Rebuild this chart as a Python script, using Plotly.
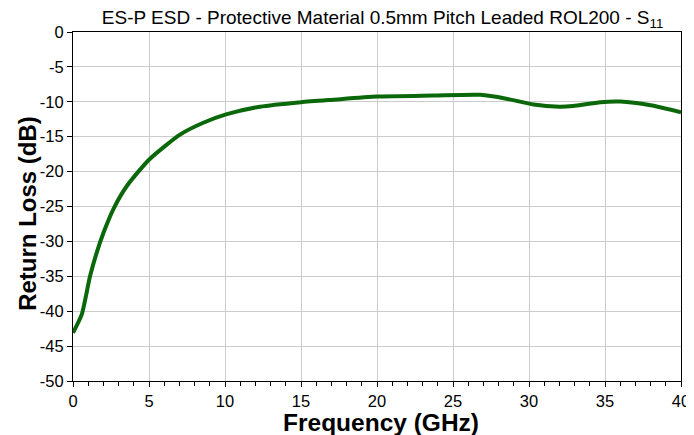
import plotly.graph_objects as go

freq_ghz = [0.0, 0.57, 1.12, 1.56, 2.0, 2.65, 3.53, 5.0, 7.04, 8.57, 10.07, 12.3, 15.0,
            17.1, 20.0, 23.7, 26.8, 28.5, 30.3, 32.0, 32.9, 34.7, 36.0, 38.0, 40.0]
s11_db = [-43.1, -40.5, -35.0, -31.6, -28.8, -25.4, -22.1, -18.3, -14.7, -13.0, -11.8, -10.7, -10.05,
          -9.7, -9.25, -9.1, -9.0, -9.55, -10.4, -10.7, -10.6, -10.05, -9.96, -10.5, -11.5]

x_ticks = [0, 5, 10, 15, 20, 25, 30, 35, 40]
y_ticks = [0, -5, -10, -15, -20, -25, -30, -35, -40, -45, -50]
y_tick_text = [str(v) for v in y_ticks]

FONT = "Arial, Liberation Sans, sans-serif"

fig = go.Figure()
fig.add_trace(go.Scatter(x=freq_ghz, y=s11_db, mode="lines",
                         line=dict(color="#0a680a", width=4, shape="spline", smoothing=0.6),
                         showlegend=False, hoverinfo="skip"))

axis_font = dict(family=FONT, size=16.5, color="black")
fig.update_layout(
    width=686, height=427,
    margin=dict(l=65, r=13, t=24, b=54, autoexpand=False),
    paper_bgcolor="white", plot_bgcolor="white",
    title=dict(text="ES-P ESD - Protective Material 0.5mm Pitch Leaded ROL200 - S<sub>11</sub>",
               x=0.546, xanchor="center", y=0.978, yanchor="middle", automargin=False,
               font=dict(family=FONT, size=19, color="black")),
    xaxis=dict(range=[0, 40], tickvals=x_ticks, ticks="outside", ticklen=5, tickcolor="black",
               showgrid=True, gridcolor="#cccccc", gridwidth=1, automargin=False,
               showline=True, linecolor="black", linewidth=1, mirror=True,
               tickfont=axis_font, zeroline=False,
               minor=dict(dtick=1, ticks="outside", ticklen=4, tickcolor="black", showgrid=False)),
    yaxis=dict(range=[-50, 0], tickvals=y_ticks, ticktext=y_tick_text, ticks="outside", ticklen=5,
               tickcolor="black", showgrid=True, gridcolor="#cccccc", gridwidth=1, automargin=False,
               showline=True, linecolor="black", linewidth=1, mirror=True,
               tickfont=axis_font, zeroline=False),
    annotations=[
        dict(text="<b>Frequency (GHz)</b>", xref="paper", yref="paper", x=0.507, y=-0.118,
             xanchor="center", yanchor="middle", showarrow=False, borderpad=0,
             font=dict(family=FONT, size=24.5, color="black")),
        dict(text="<b>Return Loss (dB)</b>", xref="paper", yref="paper", x=-0.074, y=0.479,
             xanchor="center", yanchor="middle", textangle=-90, showarrow=False,
             font=dict(family=FONT, size=24, color="black")),
    ],
)

fig.write_html("out.html")
